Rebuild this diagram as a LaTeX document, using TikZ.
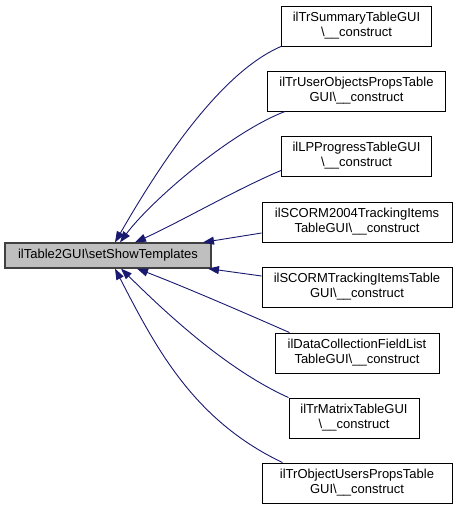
\documentclass[tikz,border=0pt]{standalone}
\usepackage{fontspec}
\setmainfont{Liberation Sans}
\usetikzlibrary{arrows.meta}
\definecolor{edgeblue}{RGB}{25,25,112}
\definecolor{maingray}{RGB}{191,191,191}
\tikzset{
  fn/.style={draw=black, fill=white, line width=0.9pt, minimum height=40pt, inner xsep=2pt, inner ysep=2pt,
    align=center, font=\fontsize{13}{15}\selectfont},
  mainnode/.style={draw=black!75, fill=maingray, line width=1.2pt, minimum height=25pt, minimum width=206pt,
    inner xsep=2pt, font=\fontsize{13}{15}\selectfont},
  edge/.style={draw=edgeblue, line width=0.9pt, -{Triangle[length=11pt,width=8pt]}, color=edgeblue}
}
\begin{document}
\begin{tikzpicture}[x=1pt,y=-1pt]
\path[use as bounding box] (0,0) rectangle (459,509);
\node[mainnode] (main) at (108,255.5) {ilTable2GUI\textbackslash setShowTemplates};
\node[fn, minimum width=150pt] (n1) at (356.5,26) {ilTrSummaryTableGUI\\\textbackslash\_\_construct};
\node[fn, minimum width=178pt] (n2) at (356.5,91) {ilTrUserObjectsPropsTable\\GUI\textbackslash\_\_construct};
\node[fn, minimum width=150pt] (n3) at (356.5,156) {ilLPProgressTableGUI\\\textbackslash\_\_construct};
\node[fn, minimum width=190pt] (n4) at (357,222) {ilSCORM2004TrackingItems\\TableGUI\textbackslash\_\_construct};
\node[fn, minimum width=190pt] (n5) at (357,287) {ilSCORMTrackingItemsTable\\GUI\textbackslash\_\_construct};
\node[fn, minimum width=164pt] (n6) at (357,353) {ilDataCollectionFieldList\\TableGUI\textbackslash\_\_construct};
\node[fn, minimum width=130pt] (n7) at (354,418) {ilTrMatrixTableGUI\\\textbackslash\_\_construct};
\node[fn, minimum width=190pt] (n8) at (357,483) {ilTrObjectUsersPropsTable\\GUI\textbackslash\_\_construct};
\draw[edge] (n1.south west) .. controls (217,74) and (155,173) .. ([xshift=7pt]main.north);
\draw[edge] ([xshift=18pt]n2.south west) .. controls (229,133) and (150,202) .. ([xshift=12pt]main.north);
\draw[edge] ([yshift=6pt]n3.south west) .. controls (235,190) and (180,222) .. ([xshift=27pt]main.north);
\draw[edge] ([yshift=-11pt]n4.west) -- ([xshift=95pt]main.north);
\draw[edge] ([yshift=11pt]n5.west) -- ([xshift=100pt]main.south);
\draw[edge] ([xshift=15pt]n6.north west) .. controls (245,313) and (185,287) .. ([xshift=29pt]main.south);
\draw[edge] (n7.north west) .. controls (225,369) and (163,310) .. ([xshift=13pt]main.south);
\draw[edge] ([xshift=21pt]n8.north west) .. controls (193,420) and (155.5,347) .. ([xshift=7pt]main.south);
\end{tikzpicture}
\end{document}
